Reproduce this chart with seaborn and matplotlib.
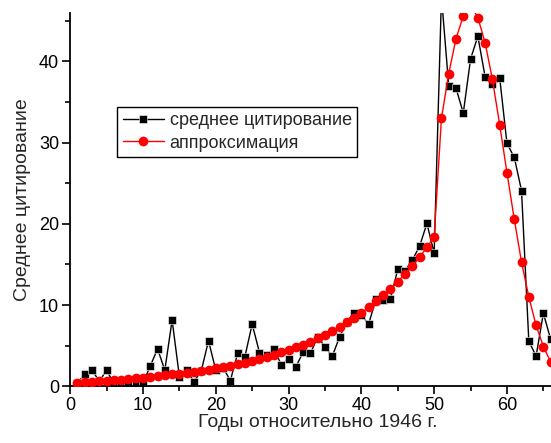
import matplotlib
matplotlib.use("Agg")
import matplotlib.pyplot as plt
from matplotlib.ticker import MultipleLocator
import seaborn as sns
import numpy as np

years = list(range(1, 67))
avg_citation = [0.4, 1.5, 2.0, 0.6, 2.0, 0.3, 0.3, 0.3, 0.3, 0.4,
                2.5, 4.6, 2.0, 8.15, 1.2, 2.0, 0.55, 1.9, 5.6, 2.0,
                2.3, 0.7, 4.05, 3.65, 7.66, 4.15, 3.9, 4.6, 2.65, 3.4,
                2.4, 4.2, 4.05, 6.1, 4.85, 3.7, 6.06, 7.95, 9.05, 8.77,
                7.66, 10.75, 10.6, 10.8, 14.4, 14.2, 15.55, 17.25, 20.05, 16.4,
                48.0, 37.0, 36.7, 33.65, 40.3, 43.1, 38.1, 37.2, 38.0, 29.9,
                28.2, 24.1, 5.6, 3.7, 9.0, 5.8]
approximation = [0.45, 0.5, 0.55, 0.6, 0.65, 0.72, 0.8, 0.88, 0.97, 1.07,
                 1.17, 1.27, 1.37, 1.47, 1.57, 1.68, 1.8, 1.92, 2.05, 2.2,
                 2.35, 2.5, 2.7, 2.9, 3.1, 3.35, 3.6, 3.9, 4.2, 4.5,
                 4.8, 5.1, 5.5, 5.9, 6.3, 6.8, 7.3, 7.9, 8.4, 9.0,
                 9.75, 10.5, 11.2, 12.0, 12.9, 13.85, 14.8, 15.9, 17.1, 18.4,
                 33.0, 38.5, 42.8, 45.6, 47.0, 45.4, 42.3, 37.8, 32.2, 26.3,
                 20.6, 15.3, 11.0, 7.5, 4.9, 3.0]
x_ticks = [0, 10, 20, 30, 40, 50, 60]
y_ticks = [0, 10, 20, 30, 40]
label_avg = "среднее цитирование"
label_fit = "аппроксимация"
x_label = "Годы относительно 1946 г."
y_label = "Среднее цитирование"

sns.set_style("ticks")
plt.rcParams['font.family'] = ['Liberation Sans', 'DejaVu Sans']

fig = plt.figure(figsize=(5.51, 4.43), dpi=100)
# axes extends slightly past the right edge of the figure (as in the original)
ax = fig.add_axes([70.2 / 551, 56.7 / 443, 495.0 / 551, 373.6 / 443])

sns.lineplot(x=years, y=avg_citation, ax=ax, color='black', linewidth=1.0,
             marker='s', markersize=6.2, markerfacecolor='black',
             markeredgecolor='white', markeredgewidth=0.4,
             label=label_avg, zorder=2)
sns.lineplot(x=years, y=approximation, ax=ax, color='red', linewidth=1.0,
             marker='o', markersize=7, markerfacecolor='red',
             markeredgecolor='red', markeredgewidth=0,
             label=label_fit, zorder=3)

ax.set_xlim(0, 68)
ax.set_ylim(0, 46)
ax.set_xticks(x_ticks)
ax.set_yticks(y_ticks)
ax.xaxis.set_minor_locator(MultipleLocator(5))
ax.yaxis.set_minor_locator(MultipleLocator(5))
ax.tick_params(which='major', direction='out', length=6, width=1.2,
               labelsize=13, color='black', labelcolor='black', pad=2)
ax.tick_params(which='minor', direction='out', length=3.5, width=1.2,
               color='black')
for side in ['top', 'right']:
    ax.spines[side].set_visible(False)
for side in ['left', 'bottom']:
    ax.spines[side].set_linewidth(1.3)
    ax.spines[side].set_color('black')

ax.set_xlabel(x_label, fontsize=14, labelpad=0)
ax.set_ylabel(y_label, fontsize=14, labelpad=6)

leg = ax.legend(loc='upper left', bbox_to_anchor=(47.0 / 495.0, 0.748),
                borderaxespad=0, fancybox=False, framealpha=1,
                edgecolor='black', fontsize=13, handlelength=2.3,
                handletextpad=0.3, borderpad=0.3, labelspacing=0.3)
leg.get_frame().set_linewidth(1.0)

fig.savefig("out.png", dpi=100)
